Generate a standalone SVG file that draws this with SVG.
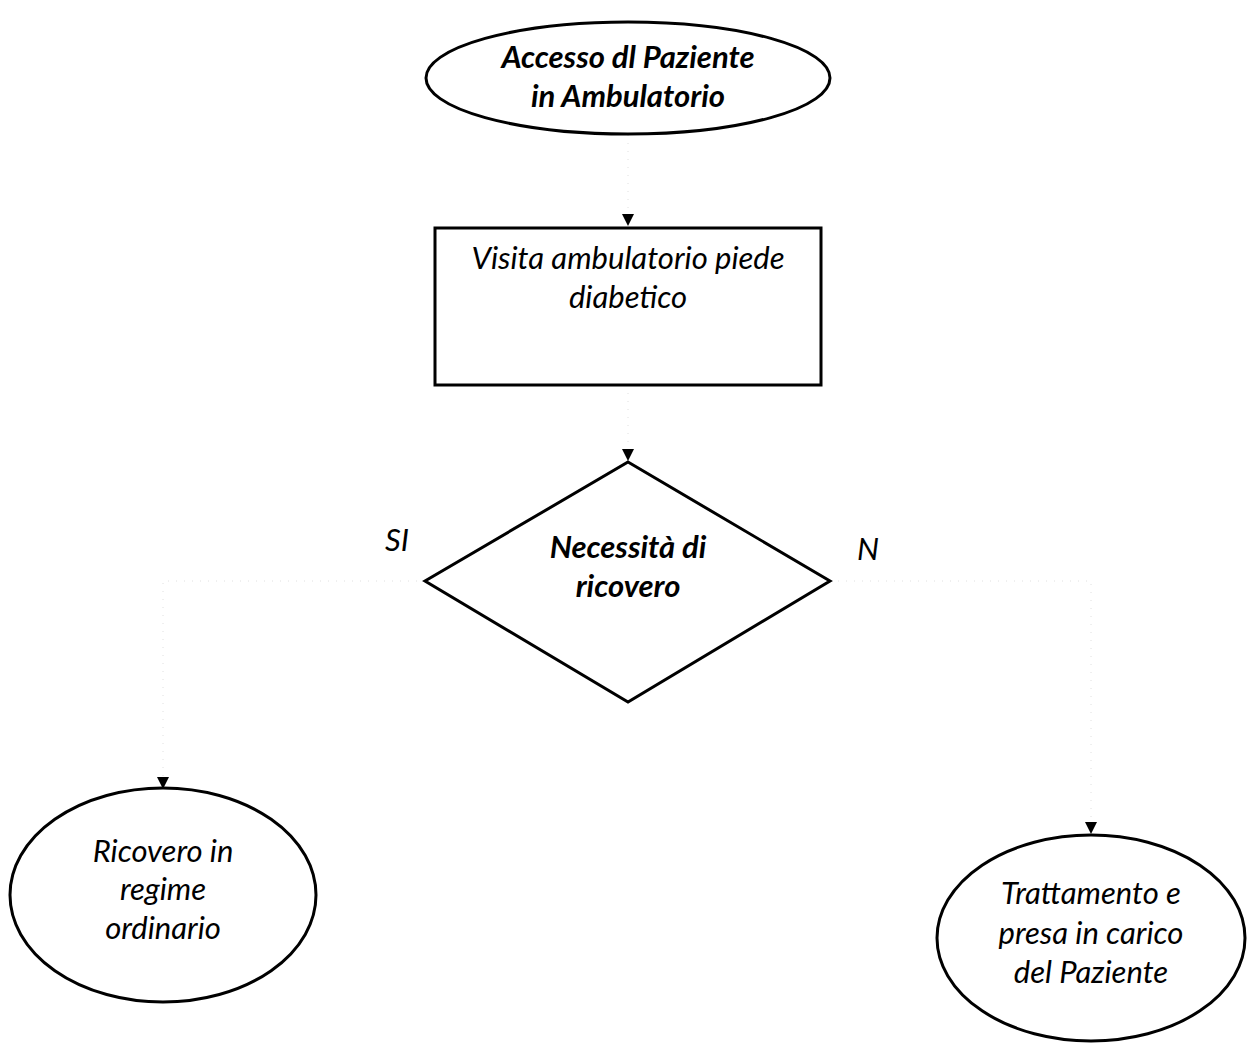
<svg xmlns="http://www.w3.org/2000/svg" width="1248" height="1047" viewBox="0 0 1248 1047">
<style>
.sh{fill:#fff;stroke:#000;stroke-width:3}
.t{font-family:Lato,"Open Sans","Liberation Sans",sans-serif;font-style:italic;font-size:31px;fill:#000;text-anchor:middle}
.b{font-weight:bold}
.c{fill:none;stroke:#e0e0e0;stroke-width:1;stroke-dasharray:1 7}
.ah{fill:#000}
</style>
<defs>
<path id="arr" d="M-6,-12 L6,-12 L0,0 Z"/>
</defs>
<g id="connectors">
<path class="c" d="M628,135 V226"/>
<path class="c" d="M628,385 V460"/>
<path class="c" d="M425,581 H163 V788"/>
<path class="c" d="M830,581 H1091 V833"/>
<use href="#arr" class="ah" x="628" y="226"/>
<use href="#arr" class="ah" x="628" y="461"/>
<use href="#arr" class="ah" x="163" y="789"/>
<use href="#arr" class="ah" x="1091" y="834"/>
</g>
<g id="start">
<ellipse class="sh" cx="628" cy="78" rx="202" ry="56"/>
<text class="t b" x="628" y="68">Accesso dl Paziente</text>
<text class="t b" x="628" y="107">in Ambulatorio</text>
</g>
<g id="visita">
<rect class="sh" x="435" y="228" width="386" height="157"/>
<text class="t" x="628" y="269">Visita ambulatorio piede</text>
<text class="t" x="628" y="308">diabetico</text>
</g>
<g id="decision">
<polygon class="sh" points="628,462 830,581 628,702 425,581"/>
<text class="t b" x="628" y="558">Necessità di</text>
<text class="t b" x="628" y="597">ricovero</text>
</g>
<g id="labels">
<text class="t" x="397" y="551">SI</text>
<text class="t" x="868" y="560">N</text>
</g>
<g id="ricovero">
<ellipse class="sh" cx="163" cy="895" rx="153" ry="107"/>
<text class="t" x="163" y="862">Ricovero in</text>
<text class="t" x="163" y="900">regime</text>
<text class="t" x="163" y="939">ordinario</text>
</g>
<g id="trattamento">
<ellipse class="sh" cx="1091" cy="938" rx="154" ry="103"/>
<text class="t" x="1091" y="904">Trattamento e</text>
<text class="t" x="1091" y="944">presa in carico</text>
<text class="t" x="1091" y="983">del Paziente</text>
</g>
</svg>
